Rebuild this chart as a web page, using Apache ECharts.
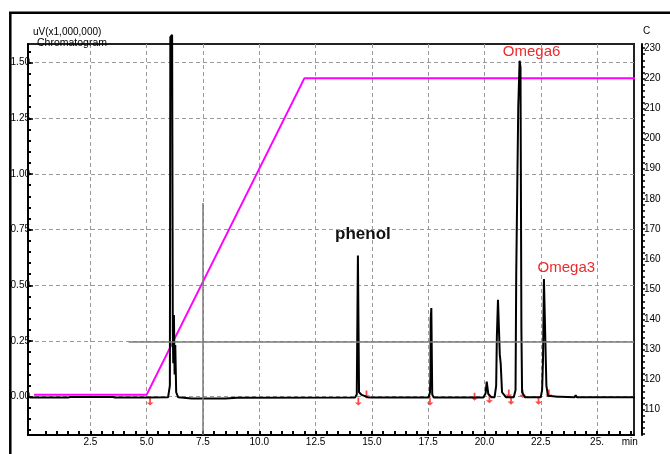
<!DOCTYPE html>
<html lang="en">
<head>
<meta charset="UTF-8">
<title>Chromatogram</title>
<script src="https://cdn.jsdelivr.net/npm/echarts@6/dist/echarts.min.js"></script>
<style>
    * { margin: 0; padding: 0; }
    body { background: #fff; }
    #chart { width: 670px; height: 454px; }
</style>
</head>
<body>
<div id="chart"></div>
<script>
    // chromatogram trace (min, uV x1,000,000)
    var chromTime = [-0.2, 1.5, 1.6, 3.5, 3.6, 5.0, 5.95, 6.03, 6.05, 6.13, 6.16, 6.18, 6.21, 6.24, 6.27, 6.31, 6.4,
        7.0, 8.5, 9.0, 14.25, 14.33, 14.38, 14.43, 14.55, 14.8, 15.0,
        17.52, 17.58, 17.6, 17.61, 17.64, 17.68, 17.75,
        19.95, 20.05, 20.1, 20.17, 20.3, 20.45, 20.52, 20.55, 20.6, 20.65, 20.68, 20.72, 20.78, 20.95,
        21.3, 21.38, 21.41, 21.46, 21.5, 21.56, 21.6, 21.64, 21.67, 21.8,
        22.5, 22.56, 22.6, 22.64, 22.71, 22.75, 22.82, 23.25, 23.3, 23.36, 24.0, 24.05, 24.1, 26.95];
    var chromSignal = [-0.004, -0.004, -0.001, -0.001, -0.004, -0.004, -0.003, 0.05, 1.615, 1.625, 0.3, 0.15, 0.367, 0.1, 0.232, 0.02, -0.003,
        -0.008, -0.008, -0.005, -0.004, 0.01, 0.634, 0.02, 0.008, -0.002, -0.004,
        -0.004, 0.02, 0.09, 0.345, 0.398, 0.01, -0.004,
        -0.004, 0.015, 0.068, 0.012, -0.002, -0.002, 0.05, 0.27, 0.435, 0.43, 0.19, 0.15, 0.02, -0.002,
        -0.002, 0.03, 0.55, 0.97, 1.3, 1.509, 1.48, 0.3, 0.02, -0.002,
        -0.002, 0.03, 0.17, 0.529, 0.525, 0.05, 0.004, 0.0, 0.008, 0.0, -0.002, 0.007, -0.002, -0.002];

    // column temperature program (C)
    var tempTime = [0, 5.0, 12.0, 26.95];
    var tempValue = [115, 115, 220, 220];

    // named peaks
    var peakNames = ['phenol', 'Omega6', 'Omega3'];
    var peakTime = [14.38, 21.56, 22.66];
    var peakSignal = [0.634, 1.509, 0.529];

    // integration marks
    var markTime = [5.15, 14.40, 14.76, 17.58, 19.56, 20.22, 21.08, 21.18, 21.70, 22.40, 22.86];
    var markSignal = [-0.022, -0.022, 0.01, -0.022, 0.0, -0.012, 0.014, -0.018, 0.012, -0.018, 0.014];

    // ticks
    var xTickValues = [2.5, 5.0, 7.5, 10.0, 12.5, 15.0, 17.5, 20.0, 22.5, 25.0];
    var xTickLabels = ['2.5', '5.0', '7.5', '10.0', '12.5', '15.0', '17.5', '20.0', '22.5', '25.'];
    var xUnit = 'min';
    var yTickValues = [0, 0.25, 0.5, 0.75, 1.0, 1.25, 1.5];
    var tempTickValues = [110, 120, 130, 140, 150, 160, 170, 180, 190, 200, 210, 220, 230];

    function steps(from, to, step) {
        var out = [];
        for (var v = from; v <= to + 1e-9; v += step) out.push(Math.round(v * 1000) / 1000);
        return out;
    }
    function zip(a, b) {
        return a.map(function (v, i) { return [v, b[i]]; });
    }

    var tickFont = '"Liberation Sans Narrow", "Liberation Sans", Arial, sans-serif';
    var chart = echarts.init(document.getElementById('chart'), null, { renderer: 'canvas' });

    var option = {
        animation: false,
        backgroundColor: '#fff',
        title: [
            { text: 'uV(x1,000,000)', left: 33, top: 27, padding: 0,
              textStyle: { fontSize: 10, fontWeight: 'normal', color: '#000', fontFamily: 'Arial, sans-serif' } },
            { text: 'Chromatogram', left: 37, top: 38, padding: 0,
              textStyle: { fontSize: 10.5, fontWeight: 'normal', color: '#000', fontFamily: 'Arial, sans-serif' } }
        ],
        graphic: [{
            type: 'rect', silent: true, z: 100,
            shape: { x: 10.3, y: 12.7, width: 700, height: 500 },
            style: { fill: 'none', stroke: '#000', lineWidth: 2.5 }
        }],
        grid: {
            left: 28, right: 36, top: 44, bottom: 19,
            show: true, borderColor: '#222', borderWidth: 2,
            outerBoundsMode: 'none'
        },
        xAxis: [{
            type: 'value', min: -0.27, max: 26.64, position: 'bottom',
            axisLine: { onZero: false, lineStyle: { color: '#000', width: 2 } },
            axisTick: { inside: true, length: 4, customValues: steps(0.5, 26.5, 0.5), lineStyle: { color: '#000', width: 2 } },
            axisLabel: {
                customValues: xTickValues.concat([26.45]), margin: 2, color: '#000', fontSize: 10, fontFamily: tickFont,
                formatter: function (v) {
                    for (var i = 0; i < xTickValues.length; i++) {
                        if (Math.abs(xTickValues[i] - v) < 1e-6) return xTickLabels[i];
                    }
                    return xUnit;
                }
            },
            splitLine: { show: false }
        }, {
            type: 'value', min: -0.27, max: 26.64, position: 'bottom',
            axisLine: { show: false, onZero: false },
            axisTick: { show: false, customValues: xTickValues },
            axisLabel: { show: false },
            splitLine: { show: true, lineStyle: { color: '#9a9a9a', width: 1, type: [4, 3] } }
        }],
        yAxis: [{
            type: 'value', min: -0.172, max: 1.584, position: 'left',
            axisLine: { show: true, onZero: false, lineStyle: { color: '#000', width: 2 } },
            axisTick: { show: true, inside: true, length: 3, customValues: steps(-0.15, 1.55, 0.05), lineStyle: { color: '#000', width: 2 } },
            axisLabel: {
                customValues: yTickValues, margin: -2, color: '#000', fontSize: 10, fontFamily: tickFont,
                formatter: function (v) { return v.toFixed(2); }
            },
            splitLine: { show: false }
        }, {
            type: 'value', min: -0.172, max: 1.584, position: 'left',
            axisLine: { show: false, onZero: false },
            axisTick: { show: true, inside: true, length: 5, customValues: yTickValues, lineStyle: { color: '#000', width: 1.5 } },
            axisLabel: { show: false },
            splitLine: { show: true, lineStyle: { color: '#9a9a9a', width: 1, type: [4, 3] } }
        }, {
            type: 'value', min: 101.6, max: 231.4, position: 'right', offset: 8,
            name: 'C', nameLocation: 'end', nameGap: 8,
            nameTextStyle: { color: '#000', fontSize: 10, fontFamily: tickFont, align: 'left', padding: [0, 0, 0, 1] },
            axisLine: { show: true, onZero: false, lineStyle: { color: '#000', width: 2 } },
            axisTick: { show: true, length: 3, customValues: steps(102, 230, 2), lineStyle: { color: '#000', width: 1.5 } },
            axisLabel: { customValues: tempTickValues, margin: 2, color: '#000', fontSize: 10, fontFamily: tickFont },
            splitLine: { show: false }
        }],
        series: [{
            name: 'Temperature',
            type: 'line', xAxisIndex: 0, yAxisIndex: 2,
            data: zip(tempTime, tempValue),
            showSymbol: false, clip: false, silent: true,
            lineStyle: { color: '#ff00ff', width: 2 }
        }, {
            name: 'Chromatogram',
            type: 'line', xAxisIndex: 0, yAxisIndex: 0,
            data: zip(chromTime, chromSignal),
            showSymbol: false, clip: false, silent: true,
            lineStyle: { color: '#000', width: 2 },
            markLine: {
                silent: true, symbol: 'none', label: { show: false },
                lineStyle: { color: '#7a7a7a', width: 1.5, type: 'solid' },
                data: [
                    [{ coord: [7.5, 0.87] }, { coord: [7.5, -0.172] }],
                    [{ coord: [4.2, 0.247] }, { coord: [26.64, 0.247] }]
                ]
            },
            markPoint: {
                silent: true, symbol: 'circle', symbolSize: 1,
                itemStyle: { color: 'rgba(0,0,0,0)' },
                data: peakNames.map(function (n, i) {
                    var red = n !== 'phenol';
                    return {
                        name: n, coord: [peakTime[i], peakSignal[i]],
                        label: {
                            show: true, position: 'inside', formatter: '{b}',
                            offset: [[5, -21], [12, -9], [22, -11]][i],
                            color: red ? '#ee2a2a' : '#111',
                            fontSize: red ? 15 : 17,
                            fontWeight: red ? 'normal' : 'bold',
                            fontFamily: 'Arial, "Liberation Sans", sans-serif'
                        }
                    };
                })
            }
        }, {
            name: 'Marks',
            type: 'scatter', xAxisIndex: 0, yAxisIndex: 0,
            data: zip(markTime, markSignal),
            symbol: 'path://M3,0 H5 V6 H8 L4,10 L0,6 H3 Z',
            symbolSize: [7, 8], silent: true,
            itemStyle: { color: '#ff1a1a' }
        }]
    };
    chart.setOption(option);
</script>
</body>
</html>
